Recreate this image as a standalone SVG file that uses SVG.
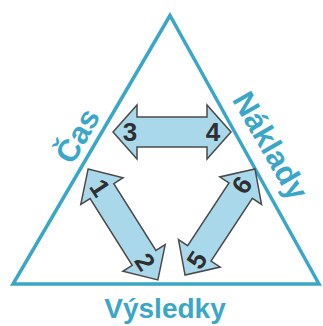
<svg xmlns="http://www.w3.org/2000/svg" width="323" height="326" viewBox="0 0 323 326">
<style>
.tri{fill:none;stroke:#3aa7c9;stroke-width:3.5;stroke-linejoin:miter}
.lbl{font-family:"Liberation Sans",Arial,sans-serif;font-weight:bold;font-size:28px;fill:#3aa7c9;text-anchor:middle}
.side{font-size:31px}
.arr{fill:#a8d8ea;stroke:#4a4a4a;stroke-width:1.5;stroke-linejoin:miter}
.num{font-family:"Liberation Sans",Arial,sans-serif;font-weight:bold;font-size:26px;fill:#2f2f2f;text-anchor:middle}
</style>
<rect width="323" height="326" fill="#ffffff"/>
<g id="triangle">
<polygon class="tri" points="170,15.5 13,284 319,284"/>
</g>
<g id="label-cas"><text class="lbl side" transform="translate(78,136) rotate(-60)" x="0" y="10">Čas</text></g>
<g id="label-naklady"><text class="lbl side" transform="translate(270,146) rotate(60)" x="0" y="10">Náklady</text></g>
<g id="label-vysledky"><text class="lbl" x="165" y="318">Výsledky</text></g>
<g id="connectors">
<g id="arrow-3-4" transform="translate(172,132)">
<polygon class="arr" points="-59,0 -35,-27 -35,-15 35,-15 35,-27 59,0 35,27 35,15 -35,15 -35,27"/>
</g>
<g id="arrow-1-2" transform="translate(123,224.5) rotate(57.8)">
<polygon class="arr" points="-65.5,0 -39.5,-25 -39.5,-14 39.5,-14 39.5,-25 65.5,0 39.5,25 39.5,14 -39.5,14 -39.5,25"/>
</g>
<g id="arrow-5-6" transform="translate(220,222) rotate(-56.6)">
<polygon class="arr" points="-63.5,0 -37.5,-25 -37.5,-14 37.5,-14 37.5,-25 63.5,0 37.5,25 37.5,14 -37.5,14 -37.5,25"/>
</g>
</g>
<g id="n3"><text class="num" x="130" y="141">3</text></g>
<g id="n4"><text class="num" x="213" y="141">4</text></g>
<g id="n1"><text class="num" transform="translate(100,188) rotate(57)" x="0" y="9">1</text></g>
<g id="n2"><text class="num" transform="translate(145,262) rotate(57)" x="0" y="9">2</text></g>
<g id="n5"><text class="num" transform="translate(197,260) rotate(-57)" x="0" y="9">5</text></g>
<g id="n6"><text class="num" transform="translate(242,185) rotate(-57)" x="0" y="9">6</text></g>
</svg>
